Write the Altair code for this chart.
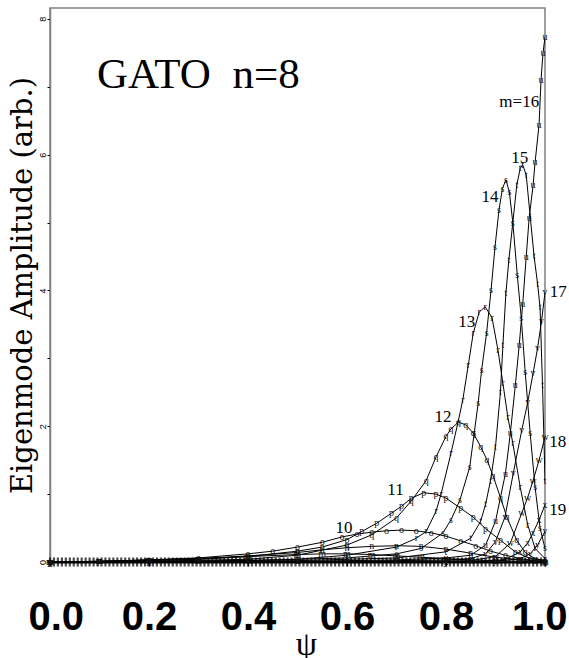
import altair as alt
import pandas as pd

# ---- curve data (psi, amplitude) ----
PSI_08 = [0.0, 0.1, 0.2, 0.3, 0.4, 0.5, 0.55, 0.6, 0.65, 0.7, 0.75, 0.8, 0.85, 0.9, 0.95, 1.0]
AMP_08 = [0.0, 0.01, 0.03, 0.05, 0.08, 0.11, 0.12, 0.12, 0.11, 0.09, 0.07, 0.05, 0.03, 0.02, 0.01, 0.0]
PSI_09 = [0.0, 0.1, 0.2, 0.3, 0.4, 0.5, 0.55, 0.6, 0.65, 0.7, 0.75, 0.8, 0.85, 0.9, 0.95, 1.0]
AMP_09 = [0.0, 0.01, 0.03, 0.05, 0.09, 0.14, 0.18, 0.21, 0.23, 0.24, 0.23, 0.19, 0.13, 0.07, 0.03, 0.01]
PSI_10 = [0.0, 0.1, 0.2, 0.3, 0.4, 0.45, 0.5, 0.55, 0.59, 0.62, 0.65, 0.68, 0.71, 0.74, 0.77, 0.8,
          0.83, 0.86, 0.89, 0.92, 0.95, 0.98, 1.0]
AMP_10 = [0.0, 0.01, 0.03, 0.06, 0.12, 0.16, 0.22, 0.29, 0.37, 0.41, 0.44, 0.46, 0.47, 0.46, 0.43, 0.38,
          0.31, 0.24, 0.16, 0.10, 0.05, 0.02, 0.01]
PSI_11 = [0.0, 0.1, 0.2, 0.3, 0.4, 0.5, 0.55, 0.6, 0.63, 0.66, 0.69, 0.71, 0.73, 0.755, 0.78, 0.8,
          0.83, 0.855, 0.88, 0.91, 0.94, 0.97, 1.0]
AMP_11 = [0.0, 0.01, 0.02, 0.04, 0.08, 0.16, 0.22, 0.33, 0.45, 0.57, 0.72, 0.82, 0.94, 1.02, 1.0, 0.94,
          0.79, 0.66, 0.49, 0.32, 0.15, 0.05, 0.02]
PSI_12 = [0.0, 0.2, 0.4, 0.5, 0.6, 0.65, 0.7, 0.73, 0.76, 0.78, 0.8, 0.81, 0.825, 0.84, 0.855, 0.87,
          0.883, 0.895, 0.91, 0.923, 0.943, 0.96, 0.98, 1.0]
AMP_12 = [0.0, 0.01, 0.04, 0.1, 0.25, 0.4, 0.65, 0.9, 1.2, 1.55, 1.85, 1.96, 2.06, 2.02, 1.9, 1.7,
          1.5, 1.27, 0.95, 0.66, 0.32, 0.14, 0.05, 0.02]
PSI_13 = [0.0, 0.3, 0.5, 0.6, 0.7, 0.74, 0.76, 0.78, 0.79, 0.81, 0.824, 0.834, 0.845, 0.855, 0.867,
          0.879, 0.893, 0.905, 0.915, 0.925, 0.935, 0.95, 0.965, 0.98, 1.0]
AMP_13 = [0.0, 0.01, 0.04, 0.1, 0.22, 0.35, 0.45, 0.75, 1.0, 1.6, 2.05, 2.39, 2.9, 3.37, 3.68,
          3.76, 3.6, 3.12, 2.63, 2.13, 1.75, 1.1, 0.55, 0.2, 0.05]
PSI_14 = [0.0, 0.4, 0.6, 0.7, 0.75, 0.794, 0.81, 0.828, 0.848, 0.857, 0.865, 0.872, 0.882, 0.891,
          0.899, 0.907, 0.914, 0.921, 0.928, 0.935, 0.944, 0.952, 0.96, 0.97, 0.98, 0.99, 1.0]
AMP_14 = [0.0, 0.02, 0.06, 0.12, 0.2, 0.43, 0.62, 0.91, 1.4, 1.9, 2.34, 2.83, 3.37, 4.0,
          4.64, 5.18, 5.5, 5.63, 5.45, 5.0, 4.23, 3.6, 2.8, 1.9, 1.1, 0.5, 0.2]
PSI_15 = [0.0, 0.5, 0.7, 0.8, 0.85, 0.87, 0.88, 0.89, 0.9, 0.91, 0.915, 0.921, 0.927, 0.935, 0.943,
          0.95, 0.955, 0.962, 0.97, 0.978, 0.985, 0.99, 0.995, 1.0]
AMP_15 = [0.0, 0.02, 0.06, 0.15, 0.35, 0.6, 0.85, 1.2, 1.7, 2.5, 3.2, 3.96, 4.45, 5.0, 5.55,
          5.8, 5.85, 5.7, 5.1, 4.5, 4.1, 3.75, 2.6, 1.2]
PSI_16 = [0.0, 0.5, 0.7, 0.8, 0.85, 0.88, 0.9, 0.92, 0.93, 0.94, 0.948, 0.955, 0.962, 0.968, 0.976,
          0.98, 0.988, 0.992, 0.996, 1.0]
AMP_16 = [0.0, 0.01, 0.03, 0.06, 0.1, 0.25, 0.6, 1.3, 1.9, 2.6, 3.2, 3.8, 4.49, 5.07, 5.55,
          5.89, 6.44, 7.1, 7.5, 7.73]
PSI_17 = [0.0, 0.6, 0.8, 0.85, 0.88, 0.9, 0.919, 0.936, 0.953, 0.965, 0.976, 0.985, 0.993, 1.0]
AMP_17 = [0.0, 0.01, 0.03, 0.05, 0.12, 0.3, 0.66, 1.31, 1.94, 2.35, 2.78, 3.15, 3.55, 3.97]
PSI_18 = [0.0, 0.7, 0.85, 0.9, 0.93, 0.953, 0.965, 0.976, 0.988, 1.0]
AMP_18 = [0.0, 0.01, 0.02, 0.08, 0.28, 0.72, 0.95, 1.2, 1.5, 1.84]
PSI_19 = [0.0, 0.8, 0.9, 0.92, 0.95, 0.965, 0.976, 0.988, 1.0]
AMP_19 = [0.0, 0.0, 0.02, 0.04, 0.15, 0.28, 0.43, 0.62, 0.84]
PSI_20 = [0.0, 0.8, 0.9, 0.95, 0.97, 0.985, 1.0]
AMP_20 = [0.0, 0.0, 0.01, 0.05, 0.12, 0.25, 0.45]

CURVES = [
    (8, "m", PSI_08, AMP_08), (9, "n", PSI_09, AMP_09), (10, "o", PSI_10, AMP_10),
    (11, "p", PSI_11, AMP_11), (12, "q", PSI_12, AMP_12), (13, "r", PSI_13, AMP_13),
    (14, "s", PSI_14, AMP_14), (15, "t", PSI_15, AMP_15), (16, "u", PSI_16, AMP_16),
    (17, "v", PSI_17, AMP_17), (18, "w", PSI_18, AMP_18), (19, "x", PSI_19, AMP_19),
    (20, "y", PSI_20, AMP_20),
]

# curve labels (text centre psi, baseline amplitude)
LABEL_TEXT = ["m=16", "15", "14", "13", "12", "11", "10", "17", "18", "19"]
LABEL_PSI = [0.948, 0.949, 0.889, 0.842, 0.794, 0.698, 0.594, 1.027, 1.026, 1.026]
LABEL_AMP = [6.70, 5.88, 5.30, 3.46, 2.06, 0.99, 0.43, 3.90, 1.69, 0.69]

X_LABEL_VALUES = [0.0, 0.2, 0.4, 0.6, 0.8, 1.0]
Y_TICKS = [0, 1, 2, 3, 4, 5, 6, 7, 8]

# near-zero markers of the many low-amplitude harmonics along the axis
BAND_PSI = [i / 125 for i in range(126)]
BAND_AMP = [0.0] * len(BAND_PSI)

rows = []
for m, letter, ps, am in CURVES:
    for p, a in zip(ps, am):
        rows.append({"m": m, "psi": p, "amp": a, "mk": letter})
df = pd.DataFrame(rows)

band_df = pd.DataFrame({"psi": BAND_PSI, "amp": BAND_AMP})
labels_df = pd.DataFrame({"psi": LABEL_PSI, "amp": LABEL_AMP, "txt": LABEL_TEXT})
title_df = pd.DataFrame({"psi": [0.095], "amp": [6.98], "txt": ["GATO\u00a0\u00a0n=8"]})

xscale = alt.Scale(domain=[0, 1], nice=False, zero=False)
yscale = alt.Scale(domain=[0, 8.16], nice=False, zero=True)

x_axis = alt.Axis(
    values=X_LABEL_VALUES,
    format=".1f",
    labelOverlap=False,
    labelFlush=True,
    labelFlushOffset=22,
    labelBound=False,
    labelFont="Liberation Sans",
    labelFontWeight="bold",
    labelFontSize=40,
    labelColor="black",
    labelPadding=31,
    tickSize=4,
    tickColor="black",
    tickWidth=1.2,
    domainColor="black",
    domainWidth=2,
    grid=False,
    title="ψ",
    titleFont="Liberation Serif",
    titleFontSize=34,
    titleFontWeight="normal",
    titleColor="black",
    titleX=256,
    titleY=92,
    titleBaseline="alphabetic",
)

y_axis = alt.Axis(
    values=Y_TICKS,
    labelExpr="datum.value % 2 == 0 ? format(datum.value, 'd') : ''",
    labelAngle=270,
    labelAlign="center",
    labelBaseline="bottom",
    labelFont="Liberation Sans",
    labelFontSize=9,
    labelColor="black",
    labelPadding=0,
    labelOverlap=False,
    labelFlush=False,
    tickSize=3,
    tickColor="black",
    domainColor="#808080",
    domainWidth=1.5,
    grid=False,
    title="Eigenmode Amplitude (arb.)",
    titleFont="DejaVu Serif",
    titleFontSize=29,
    titleFontWeight="normal",
    titleColor="black",
    titlePadding=1,
)

X = alt.X("psi:Q", scale=xscale, axis=x_axis)
Y = alt.Y("amp:Q", scale=yscale, axis=y_axis)
Xn = alt.X("psi:Q", scale=xscale)
Yn = alt.Y("amp:Q", scale=yscale)

lines = alt.Chart(df).mark_line(color="black", strokeWidth=1, clip=True).encode(
    x=X, y=Y, detail="m:N", order="psi:Q"
)
markers = alt.Chart(df).mark_text(
    font="Liberation Serif", fontSize=10, color="#111111", baseline="middle", align="center"
).encode(x=Xn, y=Yn, text="mk:N")

band = alt.Chart(band_df).mark_tick(
    color="black", orient="vertical", size=9, thickness=2.2
).encode(x=Xn, y=Yn)

curve_labels = alt.Chart(labels_df).mark_text(
    font="Liberation Serif", fontSize=17, color="black", align="center", baseline="alphabetic"
).encode(x=Xn, y=Yn, text="txt:N")

gato = alt.Chart(title_df).mark_text(
    font="Liberation Serif", fontSize=43, color="black", align="left", baseline="alphabetic"
).encode(x=Xn, y=Yn, text="txt:N")

chart = (
    alt.layer(lines, band, markers, curve_labels, gato)
    .properties(
        width=495,
        height=554,
        autosize="none",
        padding={"left": 50, "top": 8, "right": 24, "bottom": 96},
        background="white",
    )
    .configure_view(stroke="#808080", strokeWidth=1.5)
)

chart.save("out.html", embed_options={"renderer": "svg", "actions": False})
